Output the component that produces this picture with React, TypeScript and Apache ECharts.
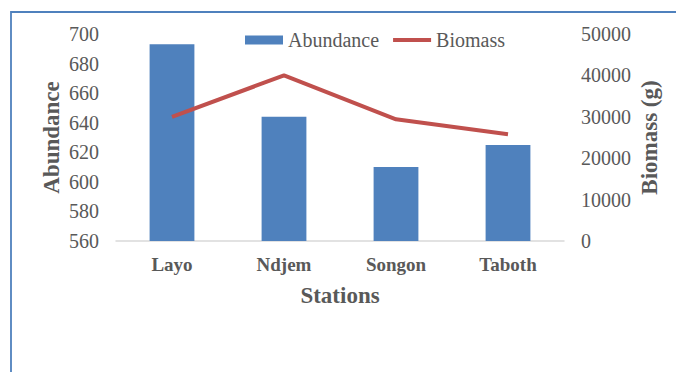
import React, { useEffect, useRef } from "react";
import * as echarts from "echarts";

const stations = ["Layo", "Ndjem", "Songon", "Taboth"];
const abundance = [693, 644, 610, 625];
const biomass = [30000, 40000, 29400, 25800];
const leftTicks = { min: 560, max: 700, interval: 20 };
const rightTicks = { min: 0, max: 50000, interval: 10000 };

const FONT = "Liberation Serif";
const GRAY = "#595959";

export default function App() {
  const ref = useRef<HTMLDivElement>(null);
  useEffect(() => {
    if (!ref.current) return;
    const chart = echarts.init(ref.current, null, { renderer: "svg" });
    chart.setOption({
      animation: false,
      backgroundColor: "#ffffff",
      textStyle: { fontFamily: FONT },
      graphic: [
        {
          type: "rect",
          shape: { x: 11, y: 12, width: 700, height: 400 },
          style: { fill: "none", stroke: "#4f81bd", lineWidth: 1.8 },
          silent: true,
        },
      ],
      legend: {
        left: 240,
        top: 25,
        itemWidth: 38,
        itemHeight: 9,
        itemGap: 14,
        textStyle: { fontFamily: FONT, fontSize: 20, color: GRAY },
        data: [
          { name: "Abundance", icon: "rect" },
          {
            name: "Biomass",
            icon: "path://M0,0L0,9M0,2.5L38,2.5L38,6.5L0,6.5Z",
            itemStyle: { color: "#c0504d", borderWidth: 0 },
            lineStyle: { width: 0 },
          },
        ],
      },
      grid: { left: 116, right: 112, top: 34, bottom: 131 },
      xAxis: {
        type: "category",
        data: stations,
        axisLine: { lineStyle: { color: "#d9d9d9", width: 1.5 } },
        axisTick: { show: false },
        axisLabel: {
          fontFamily: FONT,
          fontSize: 19,
          fontWeight: "bold",
          color: GRAY,
          margin: 14,
        },
        name: "Stations",
        nameLocation: "middle",
        nameGap: 43,
        nameTextStyle: { fontFamily: FONT, fontSize: 23, fontWeight: "bold", color: GRAY },
      },
      yAxis: [
        {
          type: "value",
          min: leftTicks.min,
          max: leftTicks.max,
          interval: leftTicks.interval,
          splitLine: { show: false },
          axisLine: { show: false },
          axisTick: { show: false },
          axisLabel: { fontFamily: FONT, fontSize: 20, color: GRAY, margin: 17 },
          name: "Abundance",
          nameLocation: "middle",
          nameGap: 53,
          nameMoveOverlap: false,
          nameRotate: 90,
          nameTextStyle: { fontFamily: FONT, fontSize: 23, fontWeight: "bold", color: GRAY },
        },
        {
          type: "value",
          min: rightTicks.min,
          max: rightTicks.max,
          interval: rightTicks.interval,
          position: "right",
          splitLine: { show: false },
          axisLine: { show: false },
          axisTick: { show: false },
          axisLabel: {
            fontFamily: FONT,
            fontSize: 20,
            color: GRAY,
            margin: 17,
            formatter: (v: number) => String(v),
          },
          name: "Biomass (g)",
          nameLocation: "middle",
          nameGap: 74,
          nameMoveOverlap: false,
          nameRotate: 90,
          nameTextStyle: { fontFamily: FONT, fontSize: 23, fontWeight: "bold", color: GRAY },
        },
      ],
      series: [
        {
          name: "Abundance",
          type: "bar",
          data: abundance,
          yAxisIndex: 0,
          barWidth: "40%",
          itemStyle: { color: "#4f81bd" },
        },
        {
          name: "Biomass",
          type: "line",
          data: biomass,
          yAxisIndex: 1,
          symbol: "none",
          lineStyle: { color: "#c0504d", width: 4 },
          itemStyle: { color: "#c0504d" },
        },
      ],
    });
    return () => chart.dispose();
  }, []);
  return (
    <div
      ref={ref}
      style={{ position: "fixed", left: 0, top: 0, width: 676, height: 372 }}
    />
  );
}
